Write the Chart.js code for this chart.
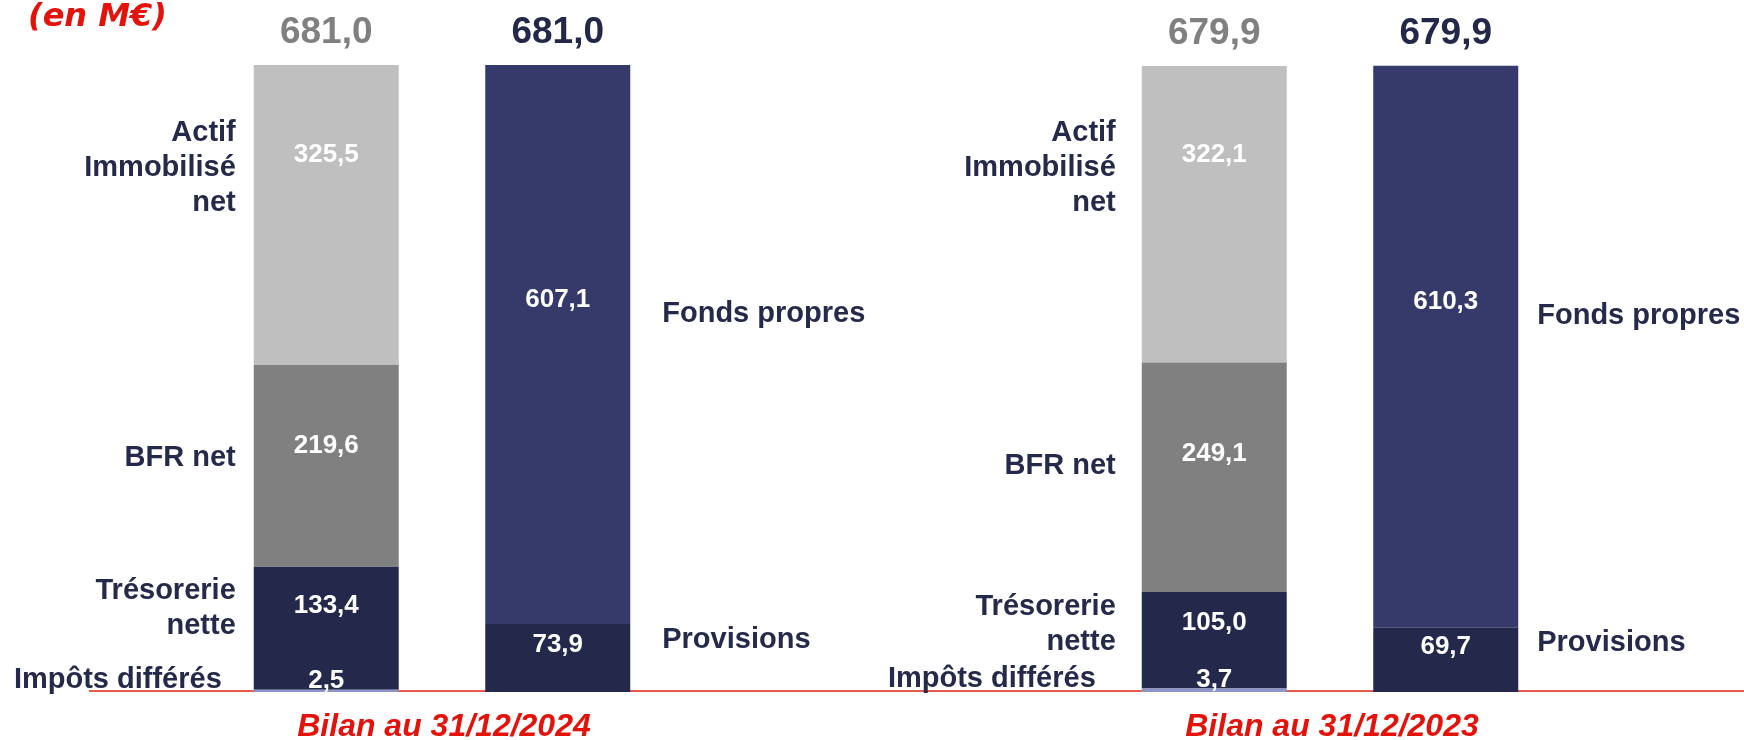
<!DOCTYPE html>
<html><head><meta charset="utf-8">
<script src="https://cdn.jsdelivr.net/npm/chart.js@4/dist/chart.umd.min.js"></script>
<style>
html,body{margin:0;padding:0;width:1744px;height:740px;overflow:hidden;background:#fff;}
#wrap{position:absolute;left:-2px;top:0;width:1780px;height:740px;}
</style></head><body>
<div id="wrap"><canvas id="c" width="1780" height="740"></canvas></div>
<script>
// ---- data (M€) ----
const categories = ['Bilan au 31/12/2024', 'Bilan au 31/12/2023'];
const impotsDifferes = [2.5, 3.7];
const tresorerieNette = [133.4, 105.0];
const bfrNet = [219.6, 249.1];
const actifImmobiliseNet = [325.5, 322.1];
const provisions = [73.9, 69.7];
const fondsPropres = [607.1, 610.3];
const totalBilan = [681.0, 679.9];
const unitLabel = '(en M€)';

const NAVY_TXT = '#252A4A';
const RED = '#E3120B';
const FONT = "'Liberation Sans', Arial, sans-serif";
const fmt = v => v.toFixed(1).replace('.', ',');

const datasets = [
  { label: 'Impôts différés', data: impotsDifferes, stack: 'actif', backgroundColor: '#8E95C9', anchor: 'above', sideDy: 0 },
  { label: 'Trésorerie\nnette', data: tresorerieNette, stack: 'actif', backgroundColor: '#24284A', anchor: 0.32, sideDy: 2 },
  { label: 'BFR net', data: bfrNet, stack: 'actif', backgroundColor: '#808080', anchor: 0.4, sideDy: 12 },
  { label: 'Actif\nImmobilisé\nnet', data: actifImmobiliseNet, stack: 'actif', backgroundColor: '#BFBFBF', anchor: 0.3, sideDy: 13 },
  { label: 'Provisions', data: provisions, stack: 'passif', backgroundColor: '#24284A', anchor: 0.3, sideDy: -4 },
  { label: 'Fonds propres', data: fondsPropres, stack: 'passif', backgroundColor: '#353A6A', anchor: 0.42, sideDy: 14 }
];
// horizontal gaps between bars and their side captions, per balance sheet
const leftGap = [18, 26], leftGapSmall = [32, 46], rightGap = [32, 19];

const labelsPlugin = {
  id: 'bilanLabels',
  beforeDatasetsDraw(chart) {
    const ctx = chart.ctx;
    const y0 = chart.scales.y.getPixelForValue(0);
    ctx.save();
    ctx.strokeStyle = '#E65A50';
    ctx.lineWidth = 2;
    ctx.beginPath();
    ctx.moveTo(91, y0 - 1);
    ctx.lineTo(chart.width, y0 - 1);
    ctx.stroke();
    ctx.restore();
  },
  afterDatasetsDraw(chart) {
    const ctx = chart.ctx;
    ctx.save();
    const topIdx = { actif: 3, passif: 5 };
    chart.data.datasets.forEach((ds, di) => {
      const meta = chart.getDatasetMeta(di);
      meta.data.forEach((bar, i) => {
        const p = bar.getProps(['x', 'y', 'base', 'width'], true);
        const top = Math.min(p.y, p.base), bottom = Math.max(p.y, p.base);
        const h = bottom - top;
        const left = p.x - p.width / 2, right = p.x + p.width / 2;
        let cy, baselineMode = 'middle';
        if (ds.anchor === 'above') { cy = top - 2; baselineMode = 'alphabetic'; }
        else cy = top + h * ds.anchor;
        // value label
        ctx.font = 'bold 26px ' + FONT;
        ctx.fillStyle = '#FFFFFF';
        ctx.textAlign = 'center';
        ctx.textBaseline = baselineMode;
        ctx.fillText(fmt(ds.data[i]), p.x, cy);
        // side label
        ctx.font = 'bold 29px ' + FONT;
        ctx.fillStyle = NAVY_TXT;
        const lines = ds.label.split('\n');
        const lh = 35;
        let sx;
        if (ds.stack === 'actif') {
          ctx.textAlign = 'right';
          sx = left - (ds.anchor === 'above' ? leftGapSmall[i] : leftGap[i]);
        } else {
          ctx.textAlign = 'left';
          sx = right + rightGap[i];
        }
        const scy = cy + ds.sideDy;
        lines.forEach((ln, k) => {
          const ly = baselineMode === 'middle' ? scy + (k - (lines.length - 1) / 2) * lh : scy;
          ctx.textBaseline = baselineMode;
          ctx.fillText(ln, sx, ly);
        });
        // totals above top segment
        if (topIdx[ds.stack] === di) {
          ctx.font = 'bold 37px ' + FONT;
          ctx.fillStyle = ds.stack === 'actif' ? '#808080' : '#232849';
          ctx.textAlign = 'center';
          ctx.textBaseline = 'alphabetic';
          ctx.fillText(fmt(totalBilan[i]), p.x, top - 22);
        }
      });
    });
    // category labels
    const xs = chart.scales.x;
    ctx.font = 'italic bold 32px ' + FONT;
    ctx.fillStyle = RED;
    ctx.textAlign = 'center';
    ctx.textBaseline = 'alphabetic';
    categories.forEach((c, i) => ctx.fillText(c, xs.getPixelForValue(i) + 2, 736));
    // unit label
    ctx.font = "italic bold 32px 'DejaVu Sans', Verdana, sans-serif";
    ctx.textAlign = 'left';
    ctx.fillText(unitLabel, 30, 26);
    ctx.restore();
  }
};

new Chart(document.getElementById('c'), {
  type: 'bar',
  data: { labels: categories, datasets },
  options: {
    responsive: false,
    animation: false,
    devicePixelRatio: 1,
    categoryPercentage: 0.5214,
    barPercentage: 0.6263,
    layout: { padding: { left: 0, right: 4, top: 29, bottom: 48 } },
    plugins: { legend: { display: false }, tooltip: { enabled: false } },
    scales: {
      x: { stacked: true, display: false, grid: { display: false } },
      y: { stacked: true, display: false, min: 0, max: 720, grid: { display: false } }
    }
  },
  plugins: [labelsPlugin]
});
</script>
</body></html>
